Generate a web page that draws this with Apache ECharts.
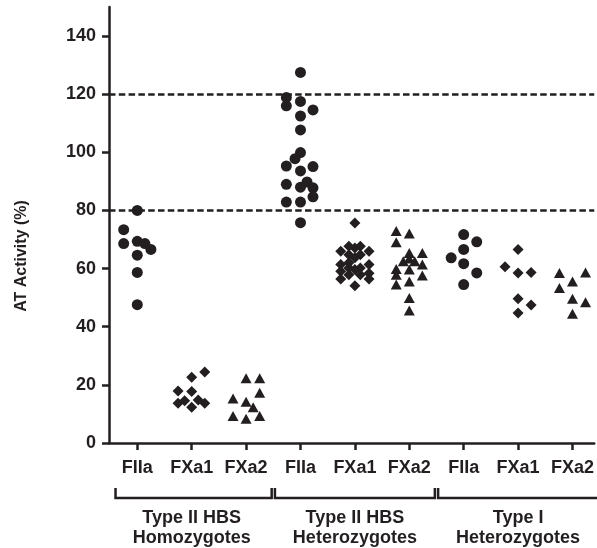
<!DOCTYPE html>
<html>
<head>
<meta charset="utf-8">
<script src="https://cdn.jsdelivr.net/npm/echarts@6/dist/echarts.min.js"></script>
<style>
  html, body { margin: 0; padding: 0; background: #fff; }
  #main { width: 597px; height: 548px; }
</style>
</head>
<body>
<div id="main"></div>
<script>
// categories along x, in order (position 1..9)
var categories = ['FIIa', 'FXa1', 'FXa2', 'FIIa', 'FXa1', 'FXa2', 'FIIa', 'FXa1', 'FXa2'];
var groupNames = ['Type II HBS\nHomozygotes', 'Type II HBS\nHeterozygotes', 'Type I\nHeterozygotes'];
var yTicks = [0, 20, 40, 60, 80, 100, 120, 140];
var refLines = [120, 80];

// each point: [jitter (in category widths), AT activity %]
var fiiaHomo = [[0,80],[-0.25,73.4],[-0.25,68.6],[0,69.4],[0.14,68.6],[0.25,66.6],[0,64.6],[0,58.7],[0,47.6]];
var fxa1Homo = [[0.24,24.4],[0,22.6],[-0.25,17.9],[0,17.7],[-0.25,13.7],[-0.13,14.5],[0.12,14.8],[0.24,13.7],[0,12.3]];
var fxa2Homo = [[0,22.3],[0.25,22.3],[0.25,17.3],[-0.24,15.3],[0,14.2],[0.13,12.3],[-0.24,9.3],[0,8.3],[0.25,9.3]];

var fiiaHet = [[0,127.5],[-0.26,118.9],[-0.26,116],[0,117.5],[0.23,114.6],[0,112.5],[0,107.7],[0,99.9],[-0.1,97.8],[-0.26,95.3],
               [0,93.6],[0.23,95.1],[-0.26,89],[0,88],[0.12,89.8],[0.23,87.8],[0.23,84.7],[-0.26,82.9],[0,82.9],[0,75.8]];
var fxa1Het = [[0,75.7],[-0.26,66],[-0.11,67.7],[0,67.1],[0.1,67.7],[0.26,66],[-0.11,64.8],[0.1,64.8],[0,63.7],[-0.26,61.4],
               [-0.11,62],[0.26,61.4],[0.1,60.2],[-0.26,59.1],[-0.11,60.2],[0,59.7],[0.1,57.9],[0.26,58.4],[-0.26,56.4],[-0.11,57.9],
               [0.26,56.4],[0,54.1]];
var fxa2Het = [[-0.24,72.9],[0,72.1],[-0.24,69.1],[0,65.4],[0.24,65.4],[-0.11,62.5],[0.1,62.5],[0.24,61.4],[-0.24,59.9],[-0.24,57.9],
               [0,59.7],[0.24,57.6],[-0.24,54.5],[0,55.6],[0,49.9],[0,45.6],[0,63.5]];

var fiiaType1 = [[0,71.7],[0.24,69.2],[0,66.6],[-0.23,63.7],[0,61.7],[0.24,58.5],[0,54.5]];
var fxa1Type1 = [[0,66.6],[-0.24,60.6],[0,58.5],[0.24,58.7],[0,49.6],[0.24,47.5],[0,44.7]];
var fxa2Type1 = [[-0.24,58.5],[0.24,58.7],[0,55.6],[-0.24,53.3],[0,49.6],[0.24,48.4],[0,44.5]];

var ink = '#231f20';
var font = 'Liberation Sans, Arial, sans-serif';

// put a group's jittered points at its category position
function place(pos, pts) {
  return pts.map(function (p) { return [pos + p[0], p[1]]; });
}
function positions() {
  var a = [];
  for (var i = 1; i <= categories.length; i++) a.push(i);
  return a;
}

var chart = echarts.init(document.getElementById('main'), null, { renderer: 'canvas' });

var option = {
  animation: false,
  backgroundColor: '#fff',
  grid: { left: 109, right: 0, top: 7, bottom: 105, containLabel: false },
  xAxis: {
    type: 'value',
    min: 0.48,
    max: 9.4,
    axisLine: { show: true, lineStyle: { color: ink, width: 2.5 } },
    axisTick: { show: true, inside: false, length: 7, customValues: positions(), lineStyle: { color: ink, width: 2.5 } },
    axisLabel: {
      customValues: positions(),
      margin: 16,
      color: ink, fontFamily: font, fontSize: 18, fontWeight: 'bold',
      formatter: function (v) { return categories[Math.round(v) - 1] || ''; }
    },
    splitLine: { show: false }
  },
  yAxis: {
    type: 'value',
    min: 0,
    max: 150,
    axisLine: { show: true, lineStyle: { color: ink, width: 2.5 } },
    axisTick: { show: true, length: 7, customValues: yTicks, lineStyle: { color: ink, width: 2.5 } },
    axisLabel: { customValues: yTicks, margin: 13, color: ink, fontFamily: font, fontSize: 18, fontWeight: 'bold' },
    splitLine: { show: false }
  },
  series: [
    {
      name: 'FIIa', type: 'scatter', symbol: 'circle', symbolSize: 11,
      itemStyle: { color: ink, opacity: 1 },
      data: place(1, fiiaHomo).concat(place(4, fiiaHet), place(7, fiiaType1)),
      markLine: {
        silent: true, symbol: 'none',
        label: { show: false },
        lineStyle: { color: ink, width: 2.5, type: [6.5, 3.3], opacity: 1 },
        data: refLines.map(function (v) { return { yAxis: v }; })
      },
      z: 3
    },
    {
      name: 'FXa1', type: 'scatter', symbol: 'diamond', symbolSize: 11,
      itemStyle: { color: ink, opacity: 1 },
      data: place(2, fxa1Homo).concat(place(5, fxa1Het), place(8, fxa1Type1))
    },
    {
      name: 'FXa2', type: 'scatter', symbol: 'triangle', symbolSize: [11, 10],
      itemStyle: { color: ink, opacity: 1 },
      data: place(3, fxa2Homo).concat(place(6, fxa2Het), place(9, fxa2Type1))
    }
  ]
};
chart.setOption(option);

// brackets and group names under the axis, placed from the x scale
var bracketSpans = [[0.6, 3.47], [3.53, 6.47], [6.53, 9.5]];
var bracketY = 498, bracketTop = 488;
var graphics = [];
bracketSpans.forEach(function (s, i) {
  var x0 = chart.convertToPixel({ xAxisIndex: 0 }, s[0]);
  var x1 = chart.convertToPixel({ xAxisIndex: 0 }, s[1]);
  graphics.push({
    type: 'polyline',
    shape: { points: [[x0, bracketTop], [x0, bracketY], [x1, bracketY], [x1, bracketTop]] },
    style: { stroke: ink, lineWidth: 2.5, fill: null }
  });
  var xc = chart.convertToPixel({ xAxisIndex: 0 }, 3 * i + 2);
  graphics.push({
    type: 'text', x: xc, y: 528,
    style: {
      text: groupNames[i], fill: ink, font: 'bold 18px ' + font,
      align: 'center', verticalAlign: 'middle', lineHeight: 20
    }
  });
});
graphics.push({
  type: 'text', x: 22, y: 256, rotation: Math.PI / 2,
  style: {
    text: 'AT Activity (%)', fill: ink, font: 'bold 16px ' + font,
    align: 'center', verticalAlign: 'middle'
  }
});
chart.setOption({ graphic: graphics });
</script>
</body>
</html>
